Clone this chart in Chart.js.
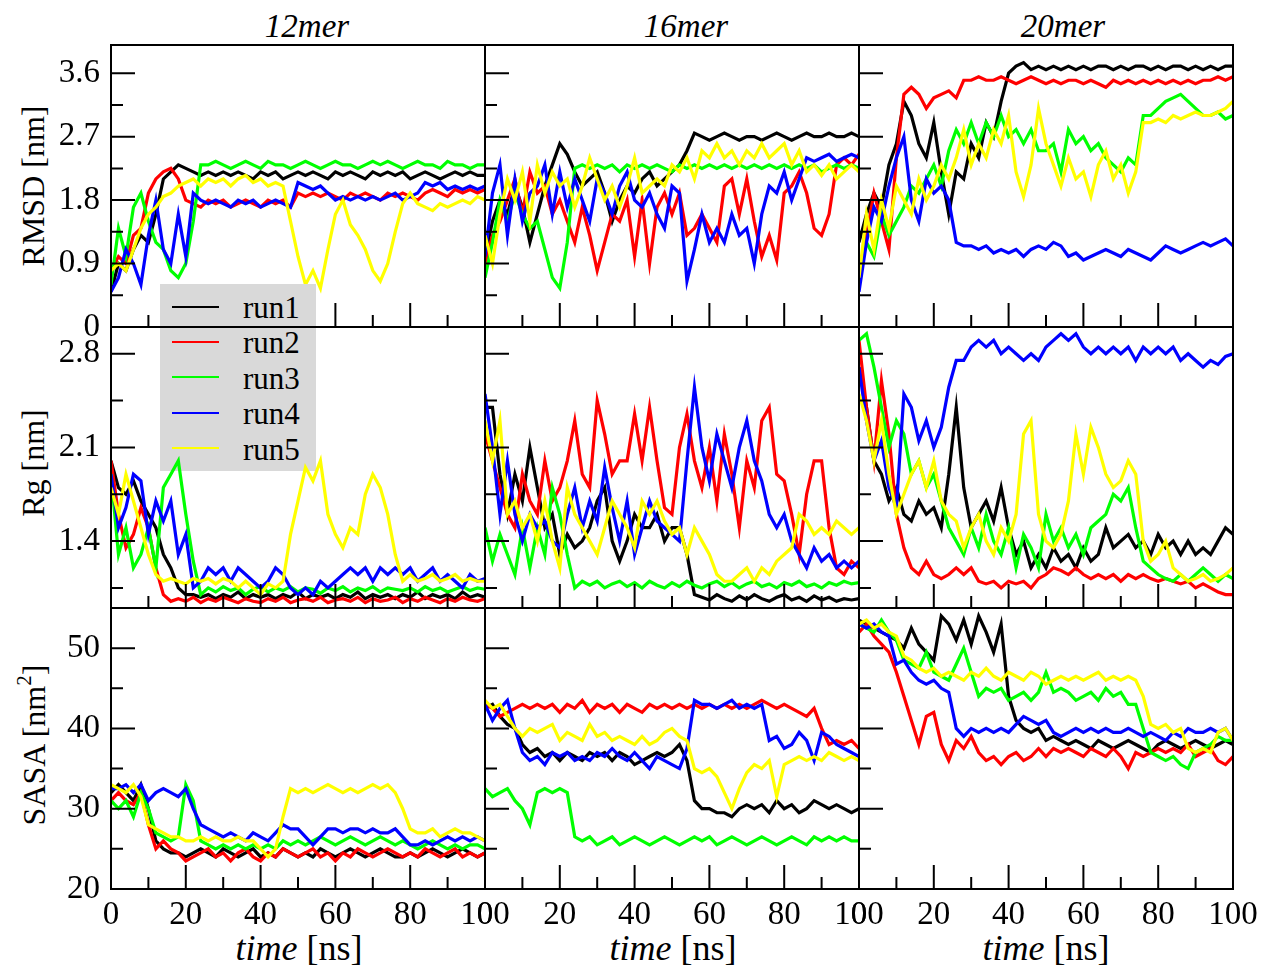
<!DOCTYPE html>
<html>
<head>
<meta charset="utf-8">
<title>RMSD, Rg and SASA per run</title>
<script src="https://cdn.jsdelivr.net/npm/chart.js@4.4.1/dist/chart.umd.min.js"></script>
<style>
  html, body { margin: 0; padding: 0; background: #fff; }
  body { width: 1264px; height: 968px; position: relative; overflow: hidden;
         font-family: "Liberation Serif", "Times New Roman", serif; color: #000; }
  canvas { position: absolute; }
  .txt { position: absolute; white-space: nowrap; line-height: 1; }
  .coltitle { font-size: 33px; font-style: italic; transform: translateX(-50%); }
  .xtitle { font-size: 36px; transform: translateX(-50%); }
  .ytitle { font-size: 32px; transform: translate(-50%, -50%) rotate(-90deg); }
  .ytitle sup { font-size: 21px; position: relative; top: -2px; }
  #legend { position: absolute; left: 160px; top: 284px; width: 156px; height: 187px;
            background: #d9d9d9; z-index: 2; }
  #legend .row { position: absolute; left: 0; width: 156px; height: 35.4px; }
  #legend .swatch { position: absolute; left: 12px; top: 16.5px; width: 47px; height: 2px; }
  #legend .name { position: absolute; left: 83px; top: 4px; font-size: 31px; line-height: 30px; }
</style>
</head>
<body>
<div id="legend"></div>
<script>
// time axis (ns), one sample every 2 ns
const timeNs = [0,2,4,6,8,10,12,14,16,18, 20,22,24,26,28,30,32,34,36,38,
                40,42,44,46,48,50,52,54,56,58, 60,62,64,66,68,70,72,74,76,78,
                80,82,84,86,88,90,92,94,96,98, 100];

const runNames = ['run1', 'run2', 'run3', 'run4', 'run5'];
const runColors = ['#000000', '#ff0000', '#00ff00', '#0000ff', '#ffff00'];
const columnTitles = ['12mer', '16mer', '20mer'];

const xTicks = [0, 20, 40, 60, 80, 100];
const xTickLabels = ['0', '20', '40', '60', '80', '100'];
const xMinorTicks = [10, 30, 50, 70, 90];

const rmsdTicks = [0, 0.9, 1.8, 2.7, 3.6];
const rmsdTickLabels = ['0', '0.9', '1.8', '2.7', '3.6'];
const rmsdMinorTicks = [0.45, 1.35, 2.25, 3.15];
const rgTicks = [1.4, 2.1, 2.8];
const rgTickLabels = ['1.4', '2.1', '2.8'];
const rgMinorTicks = [1.05, 1.75, 2.45];
const sasaTicks = [20, 30, 40, 50];
const sasaTickLabels = ['20', '30', '40', '50'];
const sasaMinorTicks = [25, 35, 45];

// ---- RMSD [nm] ----
const rmsd12 = [
  [0.5,0.9,0.8,1.1,1.3,1.2,1.6,2.1,2.2,2.3, 2.25,2.2,2.15,2.2,2.15,2.2,2.15,2.2,2.15,2.1,
   2.2,2.15,2.2,2.1,2.15,2.2,2.15,2.2,2.15,2.1, 2.2,2.15,2.2,2.15,2.1,2.2,2.15,2.2,2.15,2.2,
   2.1,2.15,2.2,2.15,2.1,2.15,2.2,2.15,2.2,2.15, 2.15],
  [0.8,1.0,0.9,1.3,1.4,1.9,2.1,2.2,2.25,2.1, 1.8,1.75,1.7,1.8,1.75,1.8,1.7,1.75,1.8,1.75,
   1.7,1.8,1.75,1.8,1.7,1.9,1.85,1.9,1.85,1.9, 1.85,1.8,1.9,1.85,1.9,1.85,1.8,1.9,1.85,1.9,
   1.85,1.8,1.9,1.95,1.9,1.85,1.95,1.9,1.95,1.9, 1.95],
  [0.6,1.4,1.0,1.7,1.9,1.5,1.2,1.1,0.8,0.7, 0.9,1.5,2.3,2.3,2.35,2.3,2.25,2.3,2.35,2.3,
   2.25,2.35,2.3,2.3,2.25,2.3,2.35,2.3,2.25,2.3, 2.35,2.3,2.3,2.25,2.3,2.35,2.3,2.35,2.3,2.25,
   2.3,2.35,2.3,2.3,2.25,2.35,2.3,2.3,2.25,2.3, 2.3],
  [0.5,0.7,1.1,0.9,0.6,1.3,1.8,1.1,0.9,1.6, 1.0,1.9,1.8,1.75,1.8,1.75,1.7,1.8,1.75,1.8,
   1.7,1.75,1.8,1.75,1.7,2.05,2.0,1.95,2.0,1.9, 1.8,1.85,1.8,1.85,1.8,1.85,1.8,1.85,1.9,1.8,
   1.85,1.9,2.05,2.0,2.05,1.95,2.0,1.95,2.0,1.95, 2.0],
  [0.8,0.9,0.8,1.1,1.4,1.6,1.7,1.85,1.9,2.0, 2.05,2.1,2.0,2.1,2.05,2.1,2.0,2.1,2.15,2.05,
   2.1,2.0,2.05,2.0,1.5,1.0,0.6,0.8,0.55,1.1, 1.6,1.8,1.45,1.3,1.1,0.8,0.65,0.9,1.35,1.75,
   1.9,1.75,1.7,1.65,1.75,1.7,1.75,1.8,1.75,1.85, 1.8]
];
const rmsd16 = [
  [1.0,1.5,1.8,1.6,2.0,1.7,1.2,1.6,2.0,2.3, 2.6,2.45,2.2,2.0,2.1,2.2,1.9,1.5,1.8,2.0,
   1.9,2.1,2.2,2.0,2.1,2.2,2.3,2.5,2.75,2.7, 2.65,2.7,2.75,2.7,2.65,2.7,2.7,2.65,2.7,2.75,
   2.7,2.65,2.7,2.75,2.7,2.7,2.75,2.7,2.7,2.75, 2.7],
  [0.9,1.3,1.5,1.8,2.1,1.6,2.2,1.9,2.0,1.6, 1.8,1.5,1.2,1.7,1.3,0.8,1.2,1.6,1.5,1.8,
   1.0,1.8,0.9,1.7,1.9,1.6,1.9,1.3,1.4,1.6, 1.4,1.2,2.0,2.1,1.6,2.1,1.5,1.0,1.3,0.95,
   1.9,2.0,2.2,1.9,1.4,1.3,1.6,2.3,2.4,2.3, 2.45],
  [0.7,1.2,1.8,1.5,1.9,1.6,1.4,1.5,1.1,0.7, 0.55,1.2,2.25,2.3,2.25,2.3,2.25,2.3,2.2,2.3,
   2.25,2.3,2.25,2.3,2.25,2.2,2.3,2.25,2.3,2.25, 2.3,2.25,2.3,2.25,2.3,2.25,2.3,2.25,2.3,2.25,
   2.3,2.25,2.3,2.25,2.3,2.2,2.25,2.3,2.25,2.3, 2.25],
  [1.0,1.9,2.3,1.3,2.1,1.5,1.9,2.0,2.3,1.6, 2.2,1.7,2.1,1.8,1.5,2.1,1.9,1.6,2.0,2.2,
   1.8,1.7,1.9,1.6,1.4,2.0,1.9,0.65,1.1,1.6, 1.2,1.4,1.2,1.6,1.3,1.4,0.9,1.6,2.0,1.9,
   2.2,1.8,2.1,2.4,2.35,2.4,2.45,2.35,2.4,2.45, 2.4],
  [1.3,0.9,1.6,2.1,1.8,2.2,1.5,2.3,1.9,2.2, 2.0,2.1,1.7,2.0,2.4,2.1,1.8,2.0,1.7,2.0,
   2.4,1.9,2.0,2.1,2.0,2.3,2.2,2.4,2.1,2.5, 2.4,2.6,2.4,2.5,2.3,2.5,2.4,2.6,2.4,2.5,
   2.6,2.3,2.5,2.2,2.3,2.15,2.3,2.1,2.2,2.3, 2.2]
];
const rmsd20 = [
  [1.2,1.6,1.9,1.7,2.3,2.6,3.2,3.0,2.6,2.4, 2.9,2.2,1.6,2.2,2.1,2.6,2.4,2.9,2.7,3.2,
   3.6,3.7,3.75,3.65,3.7,3.65,3.7,3.65,3.7,3.65, 3.7,3.65,3.7,3.7,3.65,3.7,3.65,3.7,3.7,3.65,
   3.7,3.65,3.7,3.7,3.65,3.7,3.65,3.7,3.65,3.7, 3.7],
  [0.6,1.3,1.9,1.5,1.1,2.4,3.3,3.4,3.3,3.1, 3.25,3.3,3.35,3.25,3.5,3.5,3.55,3.5,3.5,3.55,
   3.5,3.45,3.5,3.55,3.5,3.45,3.5,3.45,3.5,3.5, 3.45,3.5,3.45,3.4,3.5,3.45,3.5,3.45,3.5,3.45,
   3.5,3.45,3.5,3.45,3.5,3.45,3.5,3.5,3.55,3.5, 3.55],
  [0.8,1.2,1.0,1.6,1.3,1.5,1.7,2.0,1.9,2.1, 2.3,2.0,2.5,2.8,2.6,2.9,2.6,2.9,2.7,3.0,
   2.7,2.8,2.6,2.8,2.5,2.5,2.6,2.2,2.8,2.6, 2.7,2.5,2.6,2.4,2.3,2.2,2.4,2.3,3.0,3.0,
   3.1,3.2,3.25,3.3,3.2,3.1,3.0,3.0,3.05,2.95, 3.0],
  [0.5,1.2,1.7,1.5,2.0,2.4,2.7,1.8,1.5,2.1, 1.9,2.0,1.8,1.2,1.15,1.15,1.1,1.15,1.05,1.1,
   1.05,1.1,1.0,1.1,1.15,1.1,1.2,1.15,1.0,1.05, 0.95,1.0,1.05,1.1,1.05,1.0,1.1,1.05,1.0,0.95,
   1.05,1.15,1.1,1.05,1.1,1.15,1.2,1.15,1.2,1.25, 1.15],
  [0.7,1.6,1.1,1.8,1.4,2.0,1.8,1.6,2.1,1.8, 2.0,2.3,2.1,2.4,2.8,2.3,2.6,2.4,2.8,2.6,
   3.0,2.2,1.85,2.3,3.1,2.6,2.3,2.0,2.4,2.1, 2.2,1.85,2.3,2.5,2.1,2.3,1.9,2.2,2.9,2.9,
   2.95,2.9,3.0,2.95,3.0,3.05,3.0,3.0,3.05,3.1, 3.2]
];

// ---- Rg [nm] ----
const rg12 = [
  [2.0,1.8,1.75,1.85,1.7,1.6,1.5,1.3,1.2,1.05, 1.0,1.0,0.98,1.0,0.97,1.0,0.98,1.02,0.97,1.0,
   0.98,1.0,0.97,1.0,0.98,1.02,0.97,1.0,0.98,1.0, 0.97,1.0,0.98,1.02,0.97,1.0,0.98,1.0,0.97,1.0,
   0.98,1.02,0.97,1.0,0.98,1.0,0.97,1.02,0.98,1.0, 0.98],
  [2.0,1.6,1.35,1.45,1.65,1.5,1.2,1.0,0.95,0.97, 0.95,0.98,0.94,0.97,0.95,0.98,0.96,0.94,0.97,0.95,
   0.94,0.97,0.95,0.98,0.94,0.96,0.97,0.95,0.98,0.94, 0.96,0.97,0.95,0.98,0.94,0.97,0.95,0.96,0.98,0.94,
   0.97,0.95,0.98,0.96,0.94,0.97,0.95,0.98,0.96,0.95, 0.97],
  [1.9,1.3,1.5,1.2,1.3,1.5,1.2,1.8,1.9,2.0, 1.6,1.25,1.0,1.05,1.02,1.06,1.03,1.05,1.0,1.04,
   1.06,1.02,1.05,1.03,1.06,1.02,1.05,1.04,1.01,1.05, 1.03,1.06,1.02,1.05,1.03,1.06,1.02,1.05,1.04,1.03,
   1.05,1.02,1.06,1.03,1.05,1.02,1.04,1.06,1.03,1.05, 1.04],
  [1.9,1.5,1.65,1.9,1.85,1.45,1.7,1.55,1.7,1.3, 1.45,1.05,1.1,1.2,1.15,1.2,1.1,1.2,1.15,1.1,
   1.05,1.1,1.2,1.15,1.05,1.0,1.05,1.0,1.1,1.05, 1.1,1.15,1.2,1.15,1.2,1.1,1.2,1.15,1.2,1.15,
   1.2,1.1,1.15,1.2,1.1,1.15,1.1,1.05,1.15,1.1, 1.12],
  [1.8,1.6,1.9,1.7,1.5,1.3,1.15,1.1,1.12,1.1, 1.08,1.12,1.1,1.12,1.08,1.12,1.1,1.05,1.1,1.05,
   1.0,1.08,1.05,1.1,1.45,1.7,1.95,1.85,2.0,1.6, 1.45,1.35,1.5,1.45,1.75,1.9,1.8,1.6,1.3,1.1,
   1.15,1.1,1.12,1.15,1.1,1.12,1.15,1.1,1.12,1.1, 1.1]
];
const rg16 = [
  [2.4,2.4,1.9,1.6,1.9,1.7,2.1,1.8,1.5,1.6, 1.3,1.45,1.35,1.4,1.5,1.7,1.8,1.4,1.25,1.4,
   1.6,1.5,1.5,1.6,1.4,1.5,1.5,1.3,1.0,0.98, 0.96,1.0,0.97,0.95,0.99,0.96,1.0,0.97,0.95,0.98,
   1.0,0.96,0.98,0.95,0.99,0.96,0.98,0.95,0.97,0.96, 0.97],
  [2.2,2.0,1.8,1.6,1.5,1.9,1.7,1.6,2.0,1.7, 1.8,2.0,2.3,1.9,1.8,2.45,2.2,1.9,2.0,2.0,
   2.35,2.0,2.4,2.0,1.65,1.6,2.1,2.35,2.0,1.8, 2.1,1.7,2.2,1.9,1.5,2.0,1.8,2.3,2.4,1.9,
   1.85,1.6,1.3,1.75,2.0,2.0,1.5,1.2,1.15,1.25, 1.2],
  [1.5,1.25,1.45,1.3,1.15,1.5,1.2,1.5,1.3,1.8, 1.6,1.3,1.05,1.1,1.07,1.1,1.05,1.08,1.1,1.06,
   1.09,1.05,1.1,1.07,1.05,1.09,1.06,1.1,1.07,1.05, 1.08,1.1,1.06,1.09,1.05,1.08,1.1,1.06,1.08,1.05,
   1.09,1.07,1.1,1.06,1.08,1.05,1.09,1.07,1.1,1.08, 1.09],
  [2.5,2.1,1.6,2.0,1.6,1.4,1.6,1.5,1.55,1.4, 1.35,1.6,1.8,1.5,1.7,1.55,1.95,1.65,1.4,1.7,
   1.3,1.5,1.7,1.55,1.5,1.45,1.4,2.0,2.55,2.1, 1.85,2.2,2.0,1.8,2.1,2.3,2.0,1.85,1.6,1.5,
   1.6,1.4,1.3,1.2,1.35,1.25,1.3,1.2,1.25,1.2, 1.25],
  [2.3,2.0,2.3,1.6,1.7,1.5,1.6,1.4,1.7,1.4, 1.2,1.8,1.6,1.5,1.4,1.3,1.5,1.7,1.6,1.5,
   1.35,1.7,1.6,1.7,1.55,1.45,1.5,1.3,1.5,1.4, 1.3,1.15,1.1,1.1,1.15,1.2,1.1,1.2,1.15,1.25,
   1.3,1.35,1.6,1.55,1.45,1.5,1.45,1.55,1.5,1.45, 1.5]
];
const rg20 = [
  [2.7,2.4,2.0,1.9,1.7,1.8,1.6,1.55,1.7,1.6, 1.65,1.5,1.9,2.4,1.8,1.5,1.6,1.7,1.55,1.8,
   1.5,1.3,1.4,1.2,1.3,1.2,1.35,1.25,1.3,1.2, 1.35,1.25,1.3,1.5,1.35,1.4,1.45,1.35,1.4,1.3,
   1.45,1.35,1.4,1.3,1.4,1.3,1.35,1.3,1.4,1.5, 1.45],
  [2.9,2.4,2.0,2.6,2.2,1.6,1.35,1.2,1.15,1.25, 1.15,1.12,1.15,1.2,1.15,1.2,1.1,1.08,1.1,1.05,
   1.1,1.08,1.1,1.05,1.12,1.15,1.2,1.18,1.15,1.2, 1.15,1.12,1.15,1.12,1.15,1.1,1.15,1.12,1.15,1.12,
   1.1,1.12,1.1,1.08,1.1,1.05,1.08,1.05,1.02,1.0, 1.0],
  [2.9,2.95,2.7,2.4,2.1,2.3,2.2,1.9,2.0,1.8, 1.9,1.7,1.5,1.4,1.3,1.5,1.35,1.6,1.4,1.3,
   1.5,1.2,1.45,1.35,1.2,1.6,1.4,1.5,1.35,1.45, 1.3,1.5,1.55,1.6,1.75,1.7,1.8,1.5,1.25,1.2,
   1.15,1.12,1.1,1.15,1.1,1.15,1.2,1.15,1.1,1.15, 1.12],
  [2.7,2.3,2.0,2.15,1.8,1.65,2.5,2.4,2.15,2.3, 2.1,2.25,2.55,2.75,2.75,2.85,2.9,2.85,2.9,2.8,
   2.85,2.8,2.75,2.8,2.75,2.85,2.9,2.95,2.9,2.95, 2.85,2.8,2.85,2.8,2.85,2.8,2.85,2.75,2.85,2.8,
   2.85,2.8,2.85,2.75,2.8,2.75,2.7,2.75,2.72,2.78, 2.8],
  [2.5,2.3,2.0,2.3,1.9,1.6,1.75,1.9,2.0,1.8, 2.0,1.7,1.6,1.55,1.35,1.5,1.6,1.4,1.3,1.5,
   1.4,1.6,2.2,2.3,1.6,1.4,1.35,1.45,1.7,2.2, 1.9,2.25,2.1,1.9,1.8,1.85,2.0,1.9,1.4,1.25,
   1.3,1.4,1.2,1.15,1.1,1.12,1.15,1.1,1.12,1.15, 1.2]
];

// ---- SASA [nm^2] ----
const sasa12 = [
  [32,33,32,31,33,30,26,25,24.5,24.5, 24,24.5,25,24.5,24,25,24.5,24,24.5,25,
   24,24.5,24,25,24.5,24,24.5,24,25,24.5, 24,24.5,25,24.5,24,24.5,25,24.5,24,24,
   24.5,24,24.5,25,24.5,24,24.5,25,24.5,24, 24.5],
  [31,32,31,30.5,32,28,25,26,25,24.5, 23.5,24,24.5,25,24,24.5,23.5,24.5,25,24,
   23.5,24.5,24,25,24.5,24,24.5,25,24,24.5, 23.5,24.5,24,25,24.5,24,24.5,25,24.5,24,
   24.5,24,25,24.5,24,24.5,25,24,24.5,24, 24.5],
  [31,30,31,29,32,30,27,26.5,26,26.5, 33,31,26,25.5,25,25.5,25,25.5,25,25.5,
   25,25.5,25,26,25.5,26,25.5,26,26.5,26, 25.5,26,26.5,26,25.5,26,26.5,26,25.5,26,
   25.5,25,25.5,26,25.5,25,25.5,25,25.5,25.5, 25],
  [32.5,32.5,33,32,33,31,32,32.5,32,31.5, 32.5,30,28,27.5,27,26.5,27,26.5,26,27,
   26.5,26,27,28,27.5,27.5,26.5,25.5,26.5,27.5, 27.5,27,27.5,27.5,27,27.5,27,27,27.5,26.5,
   25.5,25.5,26,25.5,26,26.5,26,26.5,26,26.5, 26],
  [33,32.5,32,33,31.5,28,27.5,27,26.5,26.5, 26,26,26.5,26,26.5,26,26,26.5,26,26,
   25,24,25,29,32.5,32,32.5,32,32.5,33, 32.5,32,32.5,32,32.5,33,32.5,33,32,30,
   27.5,27,27,27.5,26.5,27,27.5,27,27,26.5, 26]
];
const sasa16 = [
  [42.5,43,41.5,40.5,40,38,37,37.5,36.5,37, 36,37,36.5,36,37,36.5,37,36,37,36.5,
   35.5,36,36.5,37,36.5,37,38,36,31,30, 30,29.5,29.5,29,30,30.5,30,30.5,29.5,31,
   30,30.5,29.5,30,31,30.5,30,30.5,30,29.5, 30],
  [43,42.5,41.5,42,42.5,43,42.5,43,42.5,43, 42,43,42.5,43.5,42,43,42.5,43,42,43,
   42.5,42,43,42.5,43,42.5,43,42.5,43,42.5, 43,42.5,43,42.5,43,42.5,43,43.5,43,42.5,
   43,42.5,42,41.5,42.5,40,38,38.5,38,38.5, 37.5],
  [32.5,31.5,32,32.5,31,30,28,32,32.5,32, 32.5,32,26.5,26,26.5,25.5,26,26.5,25.5,26,
   26.5,26,25.5,26,26.5,26,25.5,26,26.5,26, 26.5,25.5,26,26.5,26,25.5,26,26.5,26,25.5,
   26,26.5,26,25.5,26.5,26,26.5,26,26.5,26, 26],
  [43,41,42.5,43.5,40,37,36,36.5,35.5,37, 36.5,37,36,36.5,36,37,36.5,37.5,36.5,36,
   37,36,35,36.5,36,35.5,35,37.5,43.5,43, 43,42.5,43,43.5,42.5,43,42.5,43,38.5,39,
   37.5,38,39.5,38.5,36,39.5,39,38,37.5,37, 36.5],
  [43.5,42.5,43,41.5,40,39,40,39.5,40,40.5, 38.5,39.5,39,38.5,40.5,39,39.5,38.5,39,38.5,
   38,39,38,38.5,39.5,40,39,38.5,35,34.5, 35,34,32,30,32.5,34.5,35.5,35,36,31.5,
   35.5,36,36.5,36,36.5,36,37,36.5,36,36.5, 36]
];
const sasa20 = [
  [53.5,53,52.5,52,51.5,51,50,52.5,50.5,49.5, 48.5,54,53,51,53.5,50.5,54,52,49.5,53,
   44,41,40,39.5,40,38.5,39,38.5,38,38.5, 38,37.5,38.5,38,37.5,38,38.5,38,37.5,37,
   38,38.5,38,37.5,38,38.5,38,37.5,38,38.5, 38],
  [52,53,51.5,50.5,49.5,47,44,41,38,41.5, 42,38,36,38.5,37.5,39,37,36,36.5,35.5,
   36.5,37,36,36.5,37.5,36.5,37.5,37,37.5,37, 36.5,37.5,37,36.5,37.5,36.5,35,37,36.5,37,
   37.5,37,37.5,37,38,36.5,37,37.5,36,35.5, 36.5],
  [53,52.5,52,53.5,52,51,48.5,48,47.5,49.5, 47,46.5,46,48,50,47,44,45,44.5,45,
   43.5,44,44.5,43.5,44.5,47,44.5,45,44.5,43.5, 44,44.5,43.5,45,44,44.5,43,43,40,37,
   36.5,36,36.5,35.5,35,37,37.5,38,39,38.5, 38.5],
  [53,52.5,53,52,51.5,48,48.5,47,46,45.5, 46,45,44.5,40,39,40,39.5,40,39.5,40,
   39.5,40.5,41.5,41,40.5,41,39.5,39,39.5,40, 39.5,40,39.5,40,39.5,39.5,40,39.5,39,39.5,
   39,38.5,39.5,39,40,39.5,39.5,40,39.5,40, 38.5],
  [53,53.5,52.5,53,52,51.5,49,48.5,47.5,47, 47.5,46.5,47,46.5,46,47,46.5,47.5,46.5,46,
   47,46.5,46,47,46.5,45.5,46,46.5,46,46.5, 46,46.5,47,46,46.5,46,46.5,46,44,40.5,
   40,40.5,39.5,40,37.5,37,37.5,37,39.5,40, 38.5]
];

// ---- layout (pixels of the page) ----
const FONT = "'Liberation Serif', 'Times New Roman', serif";
const plotLeft = [111, 485, 859];
const plotTop = [45, 327, 608];
const plotBottom = [327, 608, 889];
const plotWidth = 374;
const AXIS_W = 111, AXIS_H = 79, PAD_T = 50, PAD_R = 40;
const titleCenters = [307, 686, 1063];
const xTitleCenters = [299, 673, 1046];
const yTitleCenters = [186, 463, 745];

const rows = [
  { data: [rmsd12, rmsd16, rmsd20], min: 0, max: 4.0, ticks: rmsdTicks, labels: rmsdTickLabels,
    minor: rmsdMinorTicks, title: 'RMSD [nm]' },
  { data: [rg12, rg16, rg20], min: 0.9, max: 3.0, ticks: rgTicks, labels: rgTickLabels,
    minor: rgMinorTicks, title: 'Rg [nm]' },
  { data: [sasa12, sasa16, sasa20], min: 20, max: 55, ticks: sasaTicks, labels: sasaTickLabels,
    minor: sasaMinorTicks, title: 'SASA [nm<sup>2</sup>]' }
];

// frame round the plot area plus inward ticks on the left and bottom sides
const frameTicks = {
  id: 'frameTicks',
  afterDatasetsDraw(chart, args, opts) {
    const { ctx, chartArea: a } = chart;
    const xs = chart.scales.x, ys = chart.scales.y;
    ctx.save();
    ctx.strokeStyle = '#000';
    ctx.lineWidth = 2;
    ctx.beginPath();
    const tick = (scale, values, len, horiz) => {
      values.forEach(v => {
        const p = scale.getPixelForValue(v);
        if (horiz) { ctx.moveTo(p, a.bottom); ctx.lineTo(p, a.bottom - len); }
        else { ctx.moveTo(a.left, p); ctx.lineTo(a.left + len, p); }
      });
    };
    tick(xs, opts.xMajor, 24, true);
    tick(xs, opts.xMinor, 12, true);
    tick(ys, opts.yMajor, 24, false);
    tick(ys, opts.yMinor, 12, false);
    ctx.stroke();
    ctx.strokeRect(a.left, a.top, a.right - a.left, a.bottom - a.top);
    ctx.restore();
  }
};

function makePanel(r, c) {
  const row = rows[r];
  const h = plotBottom[r] - plotTop[r];
  const cv = document.createElement('canvas');
  cv.width = AXIS_W + plotWidth + PAD_R;
  cv.height = PAD_T + h + AXIS_H;
  cv.style.left = (plotLeft[c] - AXIS_W) + 'px';
  cv.style.top = (plotTop[r] - PAD_T) + 'px';
  cv.style.zIndex = r === 0 ? 1 : 3;
  document.body.appendChild(cv);

  const series = row.data[c];
  new Chart(cv, {
    type: 'line',
    data: {
      datasets: runNames.map((name, i) => ({
        label: name,
        data: series[i].map((v, k) => ({ x: timeNs[k], y: v })),
        borderColor: runColors[i],
        borderWidth: 3.2,
        pointRadius: 0,
        tension: 0,
        order: runNames.length - 1 - i   // run5 ends up on top
      }))
    },
    options: {
      responsive: false,
      animation: false,
      events: [],
      layout: { padding: { top: PAD_T, right: PAD_R, left: 0, bottom: 0 } },
      plugins: {
        legend: { display: false },
        tooltip: { enabled: false },
        frameTicks: { xMajor: xTicks, xMinor: xMinorTicks, yMajor: row.ticks, yMinor: row.minor }
      },
      scales: {
        x: {
          type: 'linear', min: 0, max: 100,
          grid: { display: false, drawTicks: false }, border: { display: false },
          afterBuildTicks: s => { s.ticks = xTicks.map(v => ({ value: v })); },
          afterFit: s => { s.height = AXIS_H; },
          ticks: {
            display: r === 2, color: '#000', padding: 7, maxRotation: 0, autoSkip: false,
            font: { family: FONT, size: 33 },
            callback: (v, i) => xTickLabels[i]
          }
        },
        y: {
          type: 'linear', min: row.min, max: row.max,
          grid: { display: false, drawTicks: false }, border: { display: false },
          afterBuildTicks: s => { s.ticks = row.ticks.map(v => ({ value: v })); },
          afterFit: s => { s.width = AXIS_W; },
          ticks: {
            display: c === 0, color: '#000', padding: 11, autoSkip: false,
            font: { family: FONT, size: 33 },
            callback: (v, i) => row.labels[i]
          }
        }
      }
    },
    plugins: [frameTicks]
  });
}

function addText(cls, html, left, top) {
  const d = document.createElement('div');
  d.className = 'txt ' + cls;
  d.innerHTML = html;
  d.style.left = left + 'px';
  d.style.top = top + 'px';
  document.body.appendChild(d);
}

function drawAll() {
  for (let r = 0; r < 3; r++) {
    for (let c = 0; c < 3; c++) makePanel(r, c);
  }
}

columnTitles.forEach((t, c) => addText('coltitle', t, titleCenters[c], 10));
xTitleCenters.forEach(x => addText('xtitle', '<i>time</i> [ns]', x, 930));
rows.forEach((row, r) => addText('ytitle', row.title, 33, yTitleCenters[r]));

// legend box
const legend = document.getElementById('legend');
runNames.forEach((name, i) => {
  const d = document.createElement('div');
  d.className = 'row';
  d.style.top = (5 + i * 35.4) + 'px';
  d.innerHTML = '<span class="swatch" style="background:' + runColors[i] + '"></span>' +
                '<span class="name">' + name + '</span>';
  legend.appendChild(d);
});

// make sure the serif face is ready before the canvases draw their tick labels
document.fonts.load('33px "Liberation Serif"').then(drawAll, drawAll);
</script>
</body>
</html>
